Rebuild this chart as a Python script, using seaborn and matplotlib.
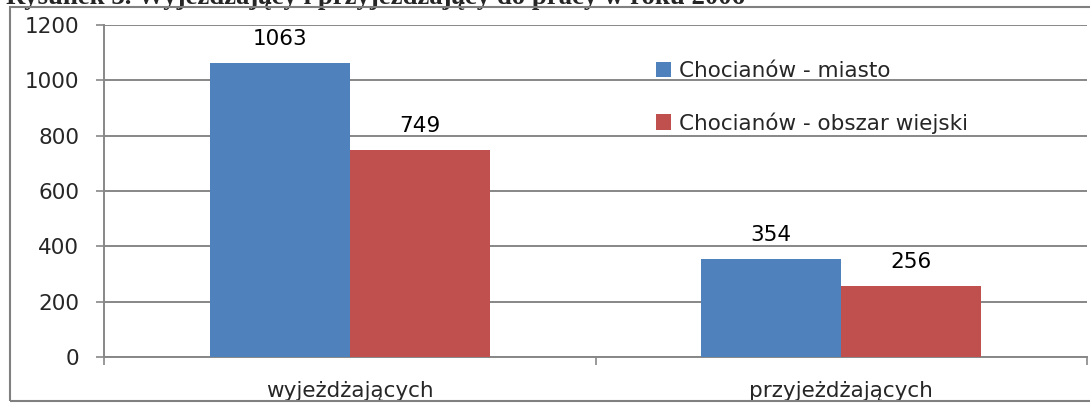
import matplotlib
matplotlib.use("Agg")
import matplotlib.pyplot as plt
from matplotlib.patches import Rectangle
import seaborn as sns
import pandas as pd

# ---- data ----
categories = ["wyjeżdżających", "przyjeżdżających"]
series_names = ["Chocianów - miasto", "Chocianów - obszar wiejski"]
miasto = [1063, 354]
obszar_wiejski = [749, 256]
title_text = "Rysunek 3. Wyjeżdżający i przyjeżdżający do pracy w roku 2006"

df = pd.DataFrame({
    "kategoria": categories * 2,
    "seria": [series_names[0]] * 2 + [series_names[1]] * 2,
    "wartosc": miasto + obszar_wiejski,
})

sns.set_theme(style="white")
FONT = ["DejaVu Sans"]
plt.rcParams["font.family"] = FONT

W, H = 1090, 403
fig = plt.figure(figsize=(W / 100, H / 100), dpi=100)
ax = fig.add_axes([104 / W, 1 - 357 / H, (1087 - 104) / W, (357 - 25) / H])

GRID = "#878787"
colors = ["#4F81BD", "#C0504D"]

sns.barplot(data=df, x="kategoria", y="wartosc", hue="seria", order=categories,
            hue_order=series_names, palette=colors, saturation=1, width=0.57,
            ax=ax, zorder=3, linewidth=0)

ax.set_ylim(0, 1200)
ax.set_xlim(-0.5, 1.5)
ax.set_yticks(range(0, 1201, 200))
ax.yaxis.grid(True, color=GRID, linewidth=1.4, zorder=0)
ax.set_axisbelow(True)
ax.set_xlabel("")
ax.set_ylabel("")

for side in ["top", "right"]:
    ax.spines[side].set_visible(False)
for side in ["left", "bottom"]:
    ax.spines[side].set_color(GRID)
    ax.spines[side].set_linewidth(1.4)

FS = 15.5
ax.tick_params(axis="y", length=6, width=1.2, color=GRID, pad=12, labelsize=FS, left=True)
ax.tick_params(axis="x", which="major", length=0, pad=17, labelsize=FS)
ax.set_xticks([-0.5, 0.5, 1.5], minor=True)
ax.tick_params(axis="x", which="minor", length=6, width=1.2, color=GRID, bottom=True)

for c in ax.containers:
    ax.bar_label(c, fmt="%d", padding=10, fontsize=FS, color="black")

handles, labels = ax.get_legend_handles_labels()
ax.legend(handles, labels, loc="upper left", frameon=False,
          bbox_to_anchor=(656 / W, 1 - 61 / H), bbox_transform=fig.transFigure,
          borderpad=0, borderaxespad=0, handlelength=0.7, handleheight=0.7,
          handletextpad=0.35, labelspacing=1.44, fontsize=FS)

# outer chart frame
fig.patches.append(Rectangle((10 / W, 1 - 401 / H), (1100 - 10) / W, (401 - 7) / H,
                             transform=fig.transFigure, fill=False,
                             edgecolor="#808080", linewidth=1.5, zorder=5))

# partially visible caption at the top
fig.text(6 / W, 1 - 4 / H, title_text, ha="left", va="baseline",
         fontsize=19.3, fontweight="bold", family=["Liberation Serif", "DejaVu Serif"])

fig.savefig("out.png", dpi=100)
